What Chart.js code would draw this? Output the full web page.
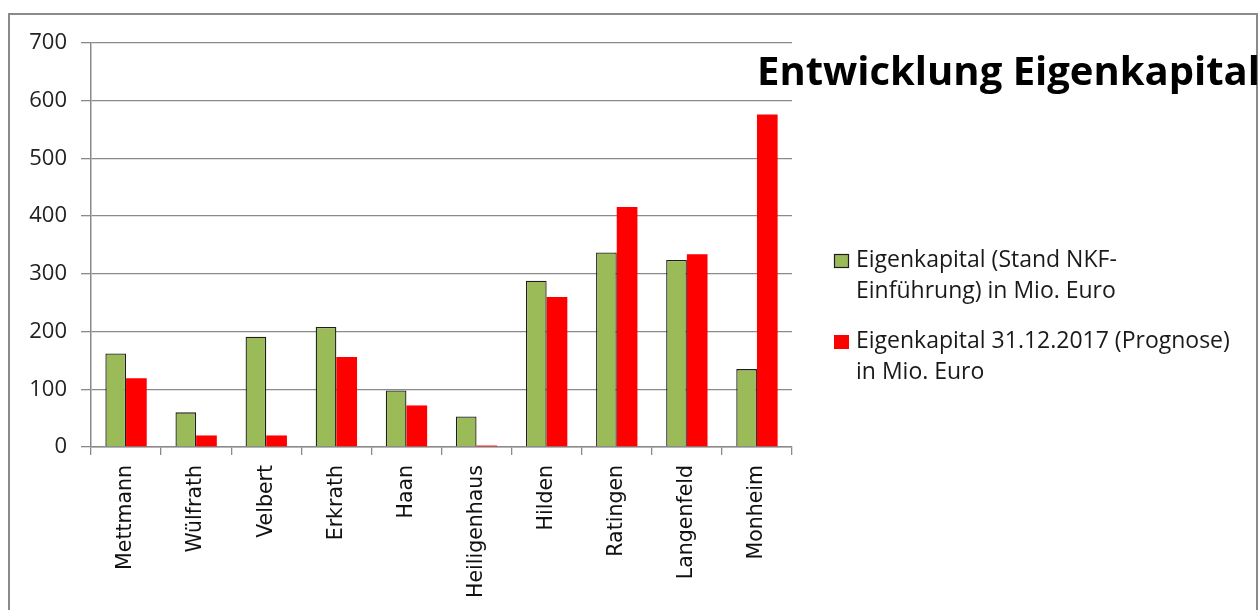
<!DOCTYPE html>
<html>
<head>
<meta charset="utf-8">
<script src="https://cdn.jsdelivr.net/npm/chart.js@4.4.0/dist/chart.umd.min.js"></script>
<style>
  html, body { margin: 0; padding: 0; background: #fff; }
  #wrap { position: relative; width: 1259px; height: 610px; }
</style>
</head>
<body>
<div id="wrap"><canvas id="c" width="1259" height="610"></canvas></div>
<script>
const categories = ["Mettmann", "Wülfrath", "Velbert", "Erkrath", "Haan", "Heiligenhaus", "Hilden", "Ratingen", "Langenfeld", "Monheim"];
const eigenkapitalNKF = [162, 60, 191, 208, 98, 53, 288, 337, 324, 135];
const eigenkapital2017 = [119, 20, 20, 156, 72, 2.5, 260, 416, 334, 576];
const seriesNames = ["Eigenkapital (Stand NKF-Einführung) in Mio. Euro", "Eigenkapital 31.12.2017 (Prognose) in Mio. Euro"];
const legendLines = [["Eigenkapital (Stand NKF-", "Einführung) in Mio. Euro"], ["Eigenkapital 31.12.2017 (Prognose)", "in Mio. Euro"]];
const chartTitle = "Entwicklung Eigenkapital";

const FONT = "'Open Sans', Lato, sans-serif";

const decor = {
  id: 'decor',
  beforeDraw(chart) {
    const ctx = chart.ctx;
    ctx.save();
    ctx.fillStyle = '#fff';
    ctx.fillRect(0, 0, chart.width, chart.height);
    ctx.strokeStyle = '#8a8a8a';
    ctx.lineWidth = 2;
    ctx.strokeRect(9, 14, 1248, 620);
    ctx.restore();
  },
  afterDraw(chart) {
    const ctx = chart.ctx;
    ctx.save();
    // title
    ctx.fillStyle = '#000';
    ctx.font = "bold 40px " + FONT;
    ctx.textBaseline = 'alphabetic';
    ctx.textAlign = 'left';
    ctx.fillText(chartTitle, 757, 85);
    // legend
    const ds = chart.data.datasets;
    const tops = [254, 335];
    ctx.font = "23px " + FONT;
    ctx.textBaseline = 'middle';
    ds.forEach((d, i) => {
      const y = tops[i];
      ctx.fillStyle = d.backgroundColor;
      ctx.fillRect(834, y, 15, 14);
      if (d.borderWidth) {
        ctx.strokeStyle = d.borderColor;
        ctx.lineWidth = 1.2;
        ctx.strokeRect(834.5, y + 0.5, 14, 13);
      }
      ctx.fillStyle = '#1a1a1a';
      legendLines[i].forEach((ln, k) => {
        ctx.fillText(ln, 856, y + 6 + k * 31);
      });
    });
    ctx.restore();
  }
};

new Chart(document.getElementById('c'), {
  type: 'bar',
  data: {
    labels: categories,
    datasets: [
      {
        label: seriesNames[0],
        data: eigenkapitalNKF,
        backgroundColor: '#9BBB59',
        borderColor: '#1e1e1e',
        borderWidth: 1.3,
        categoryPercentage: 0.59,
        barPercentage: 1.0
      },
      {
        label: seriesNames[1],
        data: eigenkapital2017,
        backgroundColor: '#FF0000',
        borderWidth: 0,
        categoryPercentage: 0.59,
        barPercentage: 1.0
      }
    ]
  },
  options: {
    responsive: false,
    animation: false,
    layout: { padding: { left: 0, right: 467, top: 43, bottom: 0 } },
    plugins: {
      legend: { display: false },
      tooltip: { enabled: false },
      title: { display: false }
    },
    scales: {
      x: {
        grid: {
          offset: true,
          drawOnChartArea: false,
          drawTicks: true,
          tickLength: 8,
          color: '#8a8a8a',
          lineWidth: 1.3
        },
        border: { color: '#8a8a8a', width: 1.5 },
        ticks: {
          minRotation: 90,
          maxRotation: 90,
          autoSkip: false,
          padding: 10,
          color: '#111',
          font: { family: "'DejaVu Sans', sans-serif", size: 20.5 }
        },
        afterFit(scale) { scale.height = 163; }
      },
      y: {
        min: 0,
        max: 700,
        ticks: {
          stepSize: 100,
          padding: 14,
          color: '#222',
          font: { family: FONT, size: 22 }
        },
        grid: {
          color: '#8a8a8a',
          lineWidth: 1.3,
          drawTicks: true,
          tickLength: 10
        },
        border: { color: '#8a8a8a', width: 1.5 },
        afterFit(scale) { scale.width = 91; }
      }
    }
  },
  plugins: [decor]
});
</script>
</body>
</html>
